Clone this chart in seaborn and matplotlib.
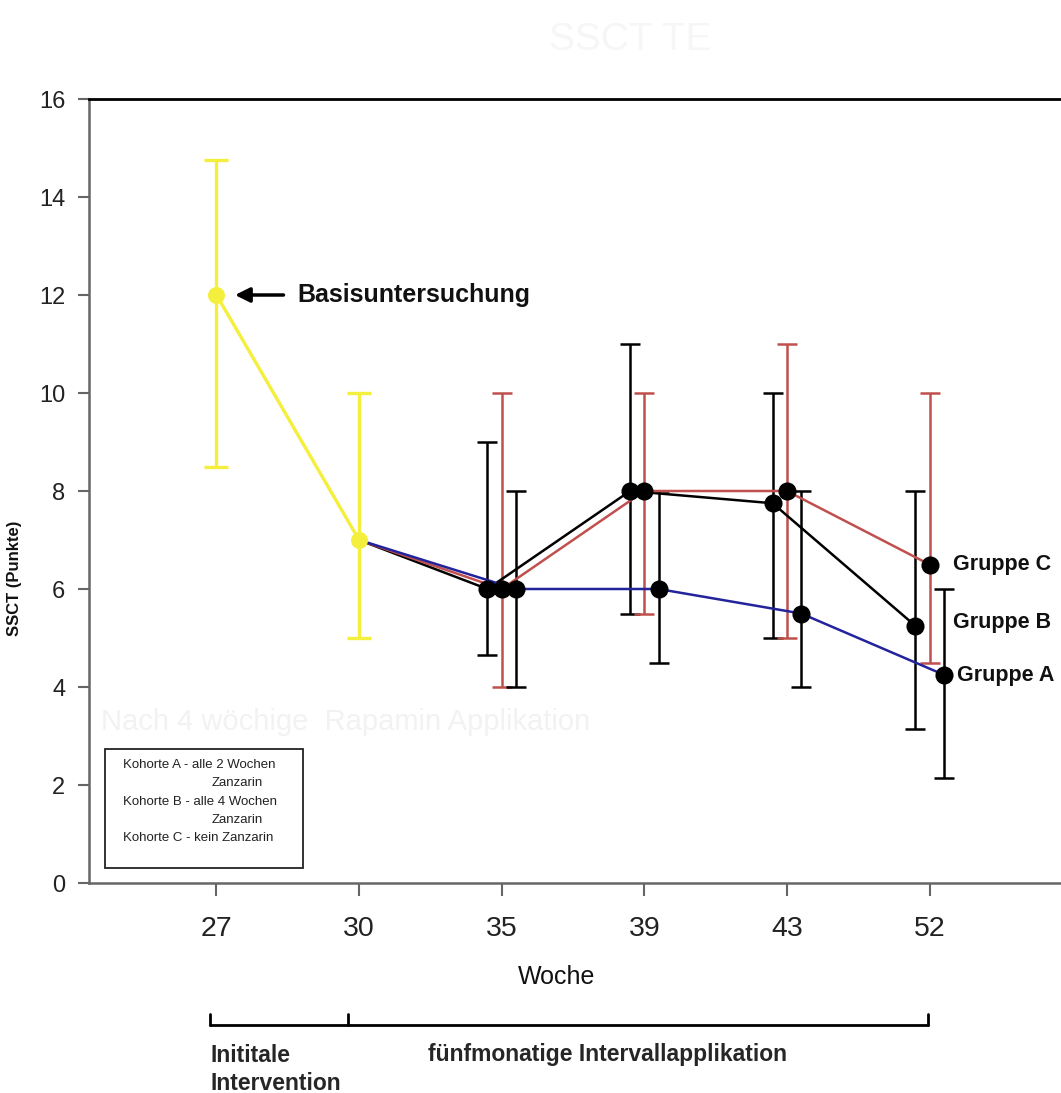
import numpy as np
import matplotlib
matplotlib.use("Agg")
import matplotlib.pyplot as plt
from matplotlib.lines import Line2D
from matplotlib.patches import Rectangle
import seaborn as sns

# data (SSCT points per week)
weeks = [27, 30, 35, 39, 43, 52]

base_mean = [12, 7]
base_lo = [8.5, 5]
base_hi = [14.75, 10]

grp_c_mean = [6, 8, 8, 6.5]
grp_c_lo = [4, 5.5, 5.0, 4.5]
grp_c_hi = [10, 10, 11, 10]

grp_b_mean = [6, 8, 7.75, 5.25]
grp_b_lo = [4.65, 5.5, 5.0, 3.15]
grp_b_hi = [9, 11, 10, 8]

grp_a_mean = [6, 6, 5.5, 4.25]
grp_a_lo = [4, 4.5, 4, 2.15]
grp_a_hi = [8, 8, 8, 6]

legend_lines = ["Kohorte A - alle 2 Wochen", "Zanzarin",
                "Kohorte B - alle 4 Wochen", "Zanzarin",
                "Kohorte C - kein Zanzarin"]

sns.set_theme(style="ticks")
plt.rcParams['font.family'] = ['Liberation Sans', 'DejaVu Sans']

W, H = 1061, 1093
fig = plt.figure(figsize=(W / 100, H / 100), dpi=100)
ax = fig.add_axes([89 / W, 1 - 883 / H, 977 / W, 784 / H])

pos = np.arange(len(weeks))
yellow = '#f4ee3c'
red = '#c0504d'
blue = '#23239c'

groups = [
    ("Gruppe B", grp_b_mean, grp_b_lo, grp_b_hi, 'black', 'black', -0.1),
    ("Gruppe C", grp_c_mean, grp_c_lo, grp_c_hi, red, red, 0.0),
    ("Gruppe A", grp_a_mean, grp_a_lo, grp_a_hi, blue, 'black', 0.1),
]

# error bars first
for name, m, lo, hi, lc, ec, off in groups:
    x = pos[2:] + off
    m = np.array(m)
    err = [m - np.array(lo), np.array(hi) - m]
    ax.errorbar(x, m, yerr=err, fmt='none', ecolor=ec, elinewidth=1.8,
                capsize=7, capthick=1.8, zorder=2)

# lines, starting at week 30 baseline point
for name, m, lo, hi, lc, ec, off in groups:
    x = np.concatenate([[pos[1]], pos[2:] + off])
    y = np.concatenate([[base_mean[1]], m])
    sns.lineplot(x=x, y=y, sort=False, color=lc, lw=1.8, ax=ax, zorder=3)

for name, m, lo, hi, lc, ec, off in groups:
    sns.scatterplot(x=pos[2:] + off, y=m, color='black', s=170,
                    edgecolor='black', linewidth=0, ax=ax, zorder=5)

# baseline (yellow)
bm = np.array(base_mean)
ax.errorbar(pos[:2], bm, yerr=[bm - np.array(base_lo), np.array(base_hi) - bm],
            fmt='none', ecolor=yellow, elinewidth=2.4, capsize=8.5, capthick=2.4, zorder=2)
sns.lineplot(x=pos[:2], y=bm, sort=False, color=yellow, lw=2.4, ax=ax, zorder=3)
sns.scatterplot(x=pos[:2], y=bm, color=yellow, s=150, edgecolor=yellow,
                linewidth=0, ax=ax, zorder=6)

# annotations
ax.annotate('', xy=(0.13, 12), xytext=(0.47, 12),
            arrowprops=dict(arrowstyle='-|>', color='black', lw=2.5,
                            mutation_scale=22, shrinkA=0, shrinkB=0))
ax.text(0.565, 12, "Basisuntersuchung", fontsize=18, fontweight='bold',
        ha='left', va='center', color='#111111')
ax.text(5.165, 6.5, "Gruppe C", fontsize=15.5, fontweight='bold', ha='left', va='center', color='#111111')
ax.text(5.165, 5.32, "Gruppe B", fontsize=15.5, fontweight='bold', ha='left', va='center', color='#111111')
ax.text(5.19, 4.24, "Gruppe A", fontsize=15.5, fontweight='bold', ha='left', va='center', color='#111111')

# kohorte box
ax.add_patch(Rectangle((0.0164, 0.019), 0.2027, 0.152, transform=ax.transAxes,
                       facecolor='white', edgecolor='#222222', lw=1.3, zorder=4))
line_y = [0.1505, 0.1276, 0.1033, 0.0804, 0.0574]
for txt, yy in zip(legend_lines, line_y):
    xx = 0.1259 if txt == "Zanzarin" else 0.0348
    ax.text(xx, yy, txt, transform=ax.transAxes, fontsize=9.5, ha='left',
            va='center', color='#222222', zorder=5)

# faint ghost text from the original image
ax.text(0.012, 0.205, "Nach 4 wöchige  Rapamin Applikation", transform=ax.transAxes,
        fontsize=21, color='#f2f2f2', ha='left', va='center', zorder=0)
fig.text(630 / W, 1 - 40 / H, "SSCT TE", fontsize=28, color='#f6f6f6', ha='center', va='center')

# axes styling
ax.set_xlim(-0.894, 5.957)
ax.set_ylim(0, 16)
ax.set_xticks(pos)
ax.set_xticklabels([str(w) for w in weeks])
ax.set_yticks(np.arange(0, 17, 2))
ax.tick_params(axis='x', labelsize=20.5, length=9, width=1.5, color='#666666',
               pad=15, labelcolor='#222222')
ax.tick_params(axis='y', labelsize=17, length=8, width=1.5, color='#666666',
               pad=9, labelcolor='#222222')
ax.spines['right'].set_visible(False)
ax.spines['top'].set_color('black')
ax.spines['top'].set_linewidth(2)
for s in ['left', 'bottom']:
    ax.spines[s].set_color('#666666')
    ax.spines[s].set_linewidth(1.8)

ax.set_xlabel("Woche", fontsize=18, color='#111111')
ax.xaxis.set_label_coords(0.479, -0.104)
ax.set_ylabel("SSCT (Punkte)", fontsize=12, fontweight='bold', color='#111111')
ax.yaxis.set_label_coords(-0.069, 0.389)

# phase bracket below the axis
yl = 1 - 1025 / H
yt = 1 - 1014 / H
for xp in [210, 348, 928]:
    fig.add_artist(Line2D([xp / W, xp / W], [yl, yt], transform=fig.transFigure, color='black', lw=2))
fig.add_artist(Line2D([210 / W, 928 / W], [yl, yl], transform=fig.transFigure, color='black', lw=2))

fig.text(210 / W, 1 - 1055 / H, "Inititale", fontsize=16.5, fontweight='bold', ha='left', va='center')
fig.text(210 / W, 1 - 1083 / H, "Intervention", fontsize=16.5, fontweight='bold', ha='left', va='center')
fig.text(608 / W, 1 - 1055 / H, "fünfmonatige Intervallapplikation", fontsize=16.5,
         fontweight='bold', ha='center', va='center')

fig.savefig('out.png', dpi=100)
